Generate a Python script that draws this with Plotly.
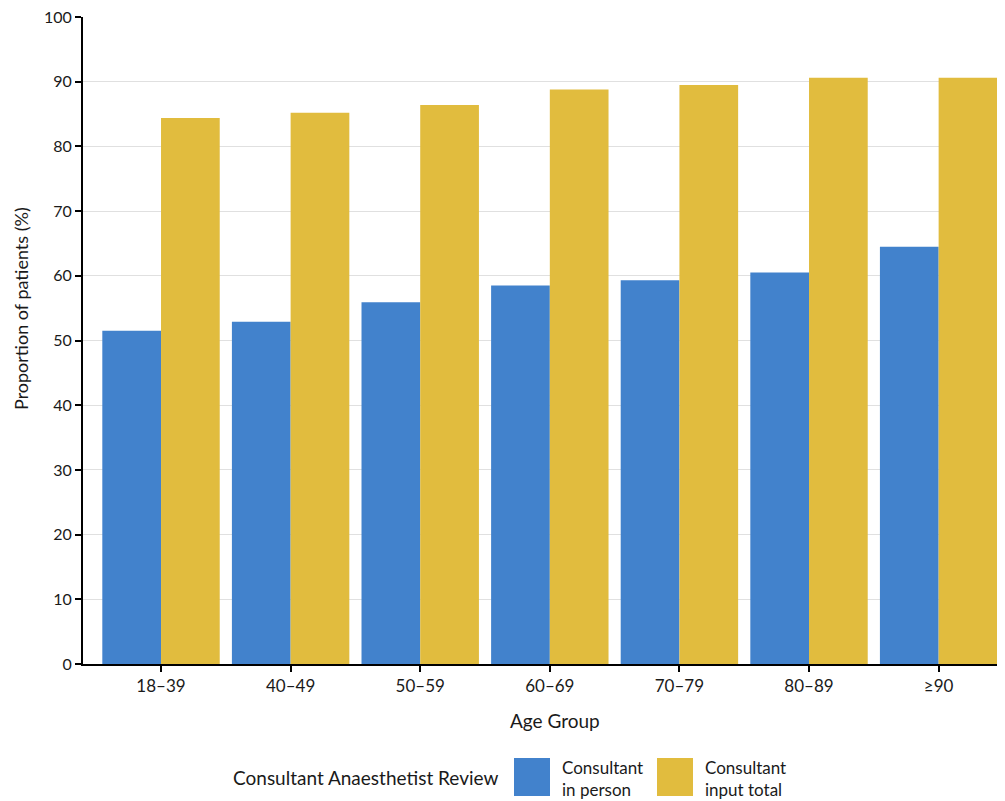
import plotly.graph_objects as go

age_groups = ["18–39", "40–49", "50–59", "60–69", "70–79", "80–89", "≥90"]
in_person = [51.5, 52.9, 55.9, 58.5, 59.3, 60.5, 64.5]
input_total = [84.4, 85.2, 86.4, 88.8, 89.5, 90.6, 90.6]
series_names = ["Consultant<br>in person", "Consultant<br>input total"]
legend_title = "Consultant Anaesthetist Review"
x_title = "Age Group"
y_title = "Proportion of patients (%)"

BLUE = "#4282CC"
YELLOW = "#E1BC3E"
FONT = "Lato, 'Noto Sans', sans-serif"

# page has an 8px body margin; work in reference pixel coords minus 8
OFF = 8
W, H = 1005 - OFF, 801 - OFF
PL, PR, PT, PB = 83 - OFF, 1002 - OFF, 17 - OFF, 664 - OFF


def px(xr):
    return (xr - OFF - PL) / (PR - PL)


def py(yr):
    return (PB - (yr - OFF)) / (PB - PT)


fig = go.Figure()
fig.add_trace(go.Bar(x=age_groups, y=in_person, marker_color=BLUE, marker_line_width=0,
                     name=series_names[0], showlegend=False))
fig.add_trace(go.Bar(x=age_groups, y=input_total, marker_color=YELLOW, marker_line_width=0,
                     name=series_names[1], showlegend=False))

fig.update_layout(
    width=W, height=H,
    margin=dict(l=PL, r=W - PR, t=PT, b=H - PB, autoexpand=False),
    plot_bgcolor="white", paper_bgcolor="white",
    barmode="group", bargap=0.094, bargroupgap=0,
    font=dict(family=FONT, size=16, color="#1a1a1a"),
    xaxis=dict(
        range=[-0.602, 6.489],
        showline=True, linecolor="black", linewidth=2,
        ticks="outside", ticklen=6, tickcolor="black", tickwidth=2,
        tickfont=dict(size=17),
    ),
    yaxis=dict(
        range=[0, 100], dtick=10,
        showline=True, linecolor="black", linewidth=2,
        ticks="outside", ticklen=6, tickcolor="black", tickwidth=2,
        showgrid=True, gridcolor="#e0e0e0", gridwidth=1,
        zeroline=False, tickfont=dict(size=16), ticklabeloverflow="allow",
    ),
)

# axis titles
fig.add_annotation(xref="paper", yref="paper", x=px(555), y=py(720), text=x_title,
                   showarrow=False, xanchor="center", yanchor="middle", font=dict(size=19))
fig.add_annotation(xref="paper", yref="paper", x=px(21), y=py(309), text=y_title,
                   textangle=-90, showarrow=False, xanchor="center", yanchor="middle",
                   font=dict(size=18))

# Manual legend (large swatches as in the reference)
fig.add_annotation(xref="paper", yref="paper", x=px(500), y=py(777),
                   text=legend_title, showarrow=False, xanchor="right", yanchor="middle",
                   font=dict(size=19))
swatches = [(514, 550, BLUE, series_names[0]), (657, 693, YELLOW, series_names[1])]
for x0, x1, col, label in swatches:
    fig.add_shape(type="rect", xref="paper", yref="paper",
                  x0=px(x0), x1=px(x1), y0=py(796), y1=py(758),
                  fillcolor=col, line_width=0)
    fig.add_annotation(xref="paper", yref="paper", x=px(x1 + 10), y=py(778),
                       text=label, showarrow=False, xanchor="left", yanchor="middle",
                       align="left", font=dict(size=17))

fig.write_html("out.html")
